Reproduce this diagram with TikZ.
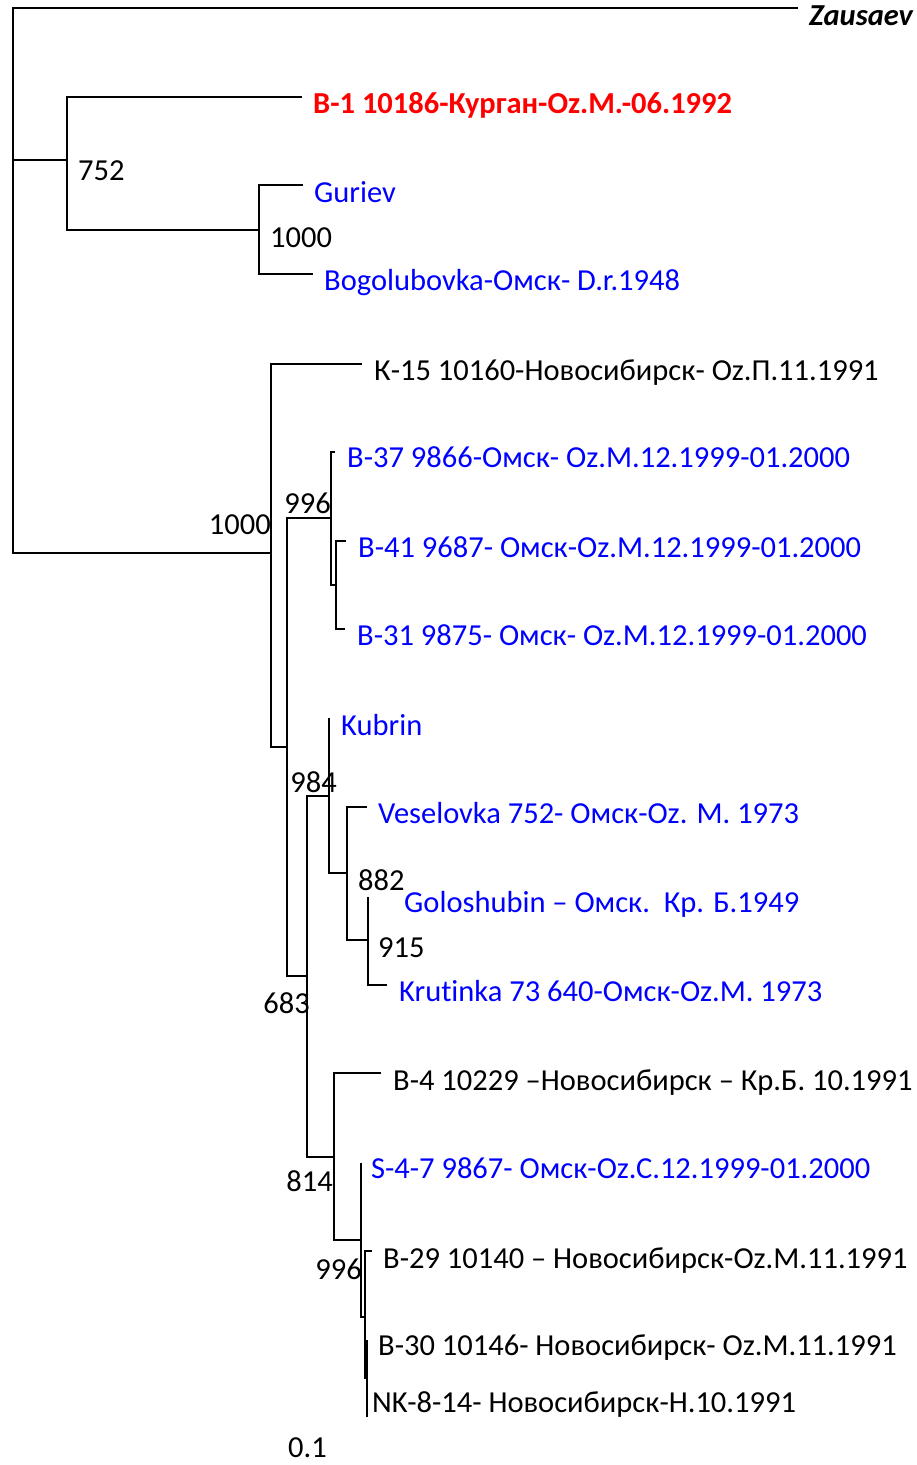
\documentclass[tikz,border=0pt]{standalone}
\usepackage{fontspec}
\setmainfont{Carlito}[Ligatures=NoCommon]
\definecolor{strainblue}{HTML}{0000FF}
\definecolor{strainred}{HTML}{FF0000}
\tikzset{
  br/.style={line width=2pt, draw=black},
  leaf/.style={anchor=base west, inner sep=0pt, font=\fontsize{30.5}{33}\selectfont, text=black},
  leafb/.style={leaf, text=strainblue},
  leafr/.style={leaf, text=strainred, font=\fontsize{30.5}{33}\selectfont\bfseries},
  bootw/.style={anchor=base west, inner sep=0pt, font=\fontsize{30.5}{33}\selectfont},
  boote/.style={bootw, anchor=base east},
}
\begin{document}
\begin{tikzpicture}[x=1pt,y=-1pt]
\useasboundingbox (0,0) rectangle (917,1465);
% inner nodes
\coordinate (root) at (13,160);
\coordinate (n752) at (67,160);
\coordinate (n1000a) at (259,230);
\coordinate (n1000b) at (271,553);
\coordinate (n287) at (287,747);
\coordinate (n996a) at (331,518);
\coordinate (n336) at (336,585);
\coordinate (n683) at (307,976);
\coordinate (n984) at (329,796);
\coordinate (n882) at (347,873);
\coordinate (n915) at (368,940);
\coordinate (n814) at (334,1157);
\coordinate (n996b) at (361,1240);
\coordinate (n365) at (365,1317);
\coordinate (n367) at (367,1378);
% tips
\coordinate (tZau) at (798,8);
\coordinate (tB1) at (302,97);
\coordinate (tGur) at (303,185);
\coordinate (tBog) at (313,274);
\coordinate (tK15) at (362,364);
\coordinate (tB37) at (335,452);
\coordinate (tB41) at (346,541);
\coordinate (tB31) at (345,629);
\coordinate (tKub) at (329,718);
\coordinate (tVes) at (367,807);
\coordinate (tGol) at (368,897);
\coordinate (tKru) at (387,985);
\coordinate (tB4) at (381,1073);
\coordinate (tS47) at (361,1163);
\coordinate (tB29) at (372,1251);
\coordinate (tB30) at (367,1340);
\coordinate (tNK) at (367,1417);

% branches
\draw[br] (root) |- (tZau);
\draw[br] (root) -- (n752);
\draw[br] (root) |- (n1000b);
\draw[br] (n752) |- (tB1);
\draw[br] (n752) |- (n1000a);
\draw[br] (n1000a) |- (tGur);
\draw[br] (n1000a) |- (tBog);
\draw[br] (n1000b) |- (tK15);
\draw[br] (n1000b) |- (n287);
\draw[br] (n287) |- (n996a);
\draw[br] (n287) |- (n683);
\draw[br] (n996a) |- (tB37);
\draw[br] (n996a) |- (n336);
\draw[br] (n336) |- (tB41);
\draw[br] (n336) |- (tB31);
\draw[br] (n683) |- (n984);
\draw[br] (n683) |- (n814);
\draw[br] (n984) |- (tKub);
\draw[br] (n984) |- (n882);
\draw[br] (n882) |- (tVes);
\draw[br] (n882) |- (n915);
\draw[br] (n915) |- (tGol);
\draw[br] (n915) |- (tKru);
\draw[br] (n814) |- (tB4);
\draw[br] (n814) |- (n996b);
\draw[br] (n996b) |- (tS47);
\draw[br] (n996b) |- (n365);
\draw[br] (n365) |- (tB29);
\draw[br] (n365) |- (n367);
\draw[br] (n367) |- (tB30);
\draw[br] (n367) |- (tNK);

% leaf labels
\node[leaf, font=\fontsize{30.5}{33}\selectfont\bfseries\itshape] (Zau) at ([shift={(11,17)}]tZau) {Zausaev};
\node[leafr] (B1) at ([shift={(11,16)}]tB1) {B-1 10186-Курган-Oz.M.-06.1992};
\node[leafb] (Gur) at ([shift={(11,17)}]tGur) {Guriev};
\node[leafb] (Bog) at ([shift={(11,16)}]tBog) {Bogolubovka-Омск- D.r.1948};
\node[leaf] (K15) at ([shift={(12,16)}]tK15) {К-15 10160-Новосибирск- Oz.П.11.1991};
\node[leafb] (B37) at ([shift={(12,15)}]tB37) {B-37 9866-Омск- Oz.M.12.1999-01.2000};
\node[leafb] (B41) at ([shift={(12,16)}]tB41) {B-41 9687- Омск-Oz.M.12.1999-01.2000};
\node[leafb] (B31) at ([shift={(12,16)}]tB31) {B-31 9875- Омск- Oz.M.12.1999-01.2000};
\node[leafb] (Kub) at ([shift={(12,17)}]tKub) {Kubrin};
\node[leafb] (Ves) at ([shift={(11,16)}]tVes) {Veselovka 752- Омск-Oz. M. 1973};
\node[leafb] (Gol) at ([shift={(36,15)}]tGol) {Goloshubin – Омск.\ \ Кр. Б.1949};
\node[leafb] (Kru) at ([shift={(12,16)}]tKru) {Krutinka 73 640-Омск-Oz.M. 1973};
\node[leaf] (B4) at ([shift={(12,17)}]tB4) {B-4 10229 –Новосибирск – Кр.Б. 10.1991};
\node[leafb] (S47) at ([shift={(10,15)}]tS47) {S-4-7 9867- Омск-Oz.C.12.1999-01.2000};
\node[leaf] (B29) at ([shift={(11,17)}]tB29) {B-29 10140 – Новосибирск-Oz.M.11.1991};
\node[leaf] (B30) at ([shift={(11,15)}]tB30) {B-30 10146- Новосибирск- Oz.M.11.1991};
\node[leaf] (NK) at ([shift={(5,-5)}]tNK) {NK-8-14- Новосибирск-Н.10.1991};

% bootstrap values
\node[bootw] (b752) at ([shift={(11,20)}]n752) {752};
\node[bootw] (b1000a) at ([shift={(11,17)}]n1000a) {1000};
\node[boote] (b1000b) at ([shift={(0,-19)}]n1000b) {1000};
\node[boote] (b996a) at ([shift={(0,-5)}]n996a) {996};
\node[boote] (b984) at ([shift={(8,-4)}]n984) {984};
\node[bootw] (b882) at ([shift={(11,17)}]n882) {882};
\node[bootw] (b915) at ([shift={(10,17)}]n915) {915};
\node[boote] (b683) at ([shift={(3,37)}]n683) {683};
\node[boote] (b814) at ([shift={(-1,34)}]n814) {814};
\node[boote] (b996b) at ([shift={(1,39)}]n996b) {996};
\node[bootw] (scale) at (288,1457) {0.1};
\end{tikzpicture}
\end{document}
